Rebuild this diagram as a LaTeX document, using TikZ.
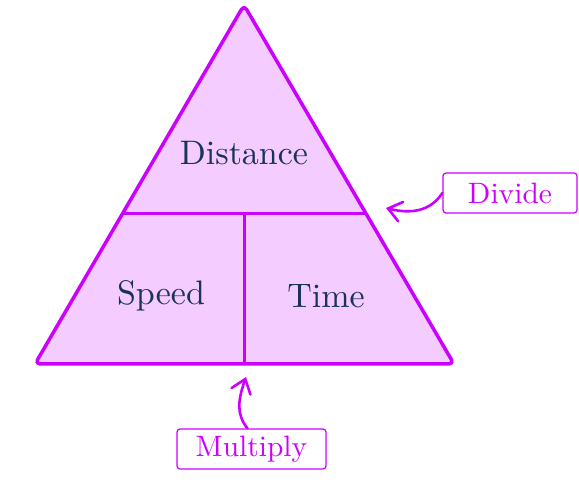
\documentclass[tikz,border=0pt]{standalone}
\usepackage{fontspec}
\setmainfont{lmroman10-regular}[Extension=.otf]
\usetikzlibrary{arrows.meta,calc}
\definecolor{mag}{HTML}{CC00FF}
\definecolor{pinkfill}{HTML}{F5CCFF}
\definecolor{navy}{HTML}{1B335C}
\begin{document}
\begin{tikzpicture}[x=1pt,y=-1pt,
  maintext/.style={text=navy, font=\fontsize{34}{40}\selectfont},
  labelbox/.style={draw=mag, text=mag, line width=1.2pt, rounded corners=3pt, minimum height=40pt, inner sep=0pt, font=\fontsize{29.5}{34}\selectfont},
  callout/.style={draw=mag, line width=2.6pt, line cap=round, -{Straight Barb[length=13pt,width=20pt,line cap=round]}}]
\useasboundingbox (0,0) rectangle (579,489);
\coordinate (A) at (244,5);
\coordinate (BL) at (35,364);
\coordinate (BR) at (454,364);
\coordinate (ML) at ($(A)!0.582!(BL)$);
\coordinate (MR) at ($(A)!0.582!(BR)$);
\coordinate (MM) at (244,214);
\coordinate (BM) at (244,364);
\draw[mag, fill=pinkfill, line width=3.5pt, rounded corners=5pt, line join=round] (A) -- (BR) -- (BL) -- cycle;
\draw[mag, line width=3pt] (ML) -- (MR);
\draw[mag, line width=3pt] (MM) -- (BM);
\node[maintext] (dist) at (244,153) {Distance};
\node[maintext] (speed) at (161,296) {Speed};
\node[maintext] (time) at (326,296) {Time};
\node[labelbox, minimum width=134pt] (divide) at (510,193) {Divide};
\node[labelbox, minimum width=149pt] (mult) at (251.5,449) {Multiply};
\coordinate (dtip) at (386,208);
\coordinate (mtip) at (246,377);
\draw[callout] (divide.west) .. controls (430,212) and (410,214) .. (dtip);
\draw[callout] ($(mult.north)+(-4,0)$) .. controls (236,414) and (238,400) .. (mtip);
\end{tikzpicture}
\end{document}
